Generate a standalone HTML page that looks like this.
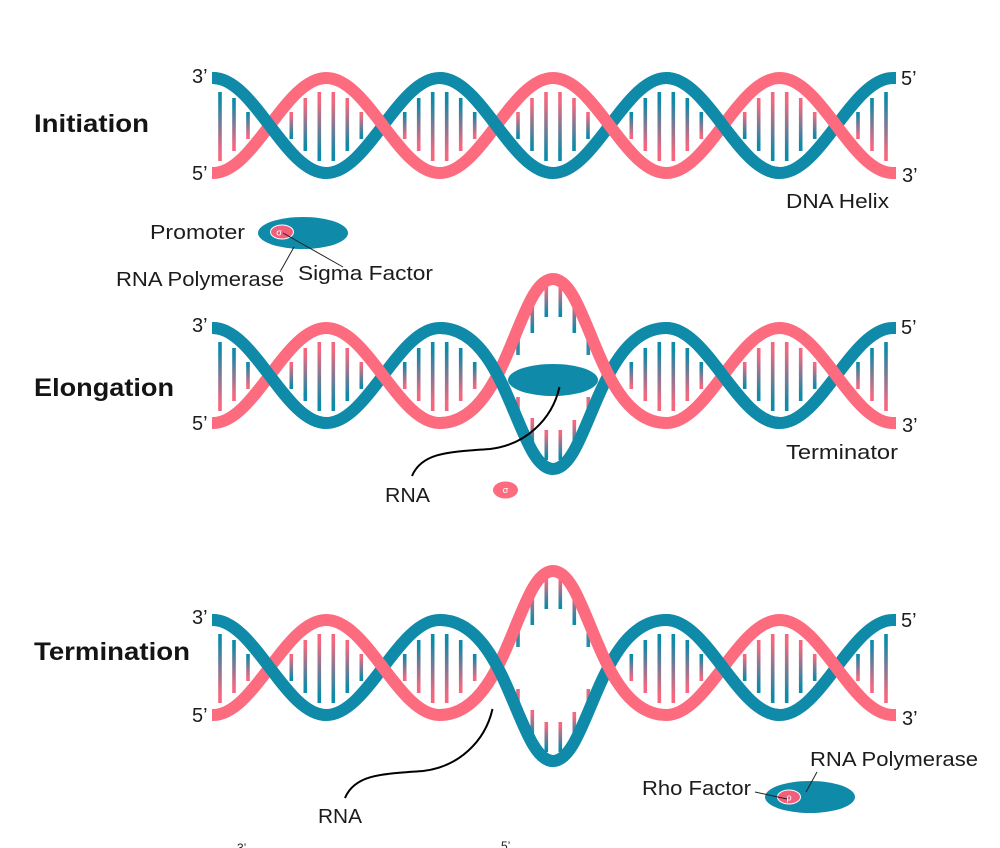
<!DOCTYPE html>
<html>
<head>
<meta charset="utf-8">
<style>
html,body{margin:0;padding:0;background:#fff;}
svg{display:block;}
text{font-family:"Liberation Sans",sans-serif;fill:#1c1c1c;font-size:20px;}
.t{font-size:25px;font-weight:bold;fill:#141414;}
</style>
</head>
<body>
<svg width="1000" height="848" viewBox="0 0 1000 848" xmlns="http://www.w3.org/2000/svg">
<defs>
<linearGradient id="tp" x1="0" y1="0" x2="0" y2="1"><stop offset="0.12" stop-color="#0f8aa8"/><stop offset="0.88" stop-color="#f4687f"/></linearGradient>
<linearGradient id="pt" x1="0" y1="0" x2="0" y2="1"><stop offset="0.12" stop-color="#f4687f"/><stop offset="0.88" stop-color="#0f8aa8"/></linearGradient>
<g id="tr">
<rect x="5.2" y="92" width="3.6" height="69" fill="url(#tp)"/>
<rect x="19.2" y="98" width="3.6" height="53" fill="url(#tp)"/>
<rect x="33.2" y="112" width="3.6" height="27" fill="url(#tp)"/>
</g>
<g id="pr">
<rect x="5.2" y="92" width="3.6" height="69" fill="url(#pt)"/>
<rect x="19.2" y="98" width="3.6" height="53" fill="url(#pt)"/>
<rect x="33.2" y="112" width="3.6" height="27" fill="url(#pt)"/>
</g>
<g id="side">
<use href="#tr" transform="translate(213,0)"/>
<use href="#pr" transform="translate(326.3,0)"/>
<use href="#pr" transform="translate(326.3,0) scale(-1,1)"/>
<use href="#tr" transform="translate(439.7,0) scale(-1,1)"/>
<use href="#tr" transform="translate(666.3,0)"/>
<use href="#pr" transform="translate(779.7,0) scale(-1,1)"/>
<use href="#pr" transform="translate(779.7,0)"/>
<use href="#tr" transform="translate(893,0) scale(-1,1)"/>
</g>
<g id="bubble">
<use href="#side" transform="translate(0,250)"/>
<rect x="544.5" y="285" width="3.6" height="32" fill="url(#pt)"/>
<rect x="558.5" y="285" width="3.6" height="32" fill="url(#pt)"/>
<rect x="530.5" y="298" width="3.6" height="35" fill="url(#pt)"/>
<rect x="572.5" y="298" width="3.6" height="35" fill="url(#pt)"/>
<rect x="516.2" y="330" width="3.6" height="25" fill="#2f8aa8"/>
<rect x="586.5" y="330" width="3.6" height="25" fill="#2f8aa8"/>
<rect x="544.5" y="430" width="3.6" height="30" fill="url(#pt)"/>
<rect x="558.5" y="430" width="3.6" height="30" fill="url(#pt)"/>
<rect x="530.5" y="418" width="3.6" height="30" fill="url(#pt)"/>
<rect x="572.5" y="420" width="3.6" height="30" fill="url(#pt)"/>
<rect x="516.2" y="397" width="3.6" height="16" fill="#e36a83"/>
<rect x="586.5" y="397" width="3.6" height="16" fill="#e36a83"/>
<path d="M212,328 L213,328 C254.3,328 285,423 326.3,423 C367.6,423 398.4,328 439.7,328 C508,328 517.5,469 553,469 C588.5,469 598,328 666.3,328 C707.6,328 738.4,423 779.7,423 C821,423 851.7,328 893,328 L896,328" fill="none" stroke="#0f8aa8" stroke-width="12"/>
<path d="M212,423 L213,423 C254.3,423 285,328 326.3,328 C367.6,328 398.4,423 439.7,423 C508,423 517.5,279 553,279 C588.5,279 598,423 666.3,423 C707.6,423 738.4,328 779.7,328 C821,328 851.7,423 893,423 L896,423" fill="none" stroke="#fd6b7f" stroke-width="12"/>
<path d="M213,328 C254.3,328 285,423 326.3,423 M439.7,328 C508,328 517.5,469 553,469 M666.3,328 C707.6,328 738.4,423 779.7,423" fill="none" stroke="#0f8aa8" stroke-width="12"/>
</g>
</defs>

<!-- Initiation -->
<use href="#side"/>
<use href="#tr" transform="translate(439.7,0)"/>
<use href="#pr" transform="translate(553,0) scale(-1,1)"/>
<use href="#pr" transform="translate(553,0)"/>
<use href="#tr" transform="translate(666.3,0) scale(-1,1)"/>
<path d="M212,78 L213,78 C254.3,78 285,173 326.3,173 C367.6,173 398.4,78 439.7,78 C481,78 511.7,173 553,173 C594.3,173 625,78 666.3,78 C707.6,78 738.4,173 779.7,173 C821,173 851.7,78 893,78 L896,78" fill="none" stroke="#0f8aa8" stroke-width="12"/>
<path d="M212,173 L213,173 C254.3,173 285,78 326.3,78 C367.6,78 398.4,173 439.7,173 C481,173 511.7,78 553,78 C594.3,78 625,173 666.3,173 C707.6,173 738.4,78 779.7,78 C821,78 851.7,173 893,173 L896,173" fill="none" stroke="#fd6b7f" stroke-width="12"/>
<path d="M213,78 C254.3,78 285,173 326.3,173 M439.7,78 C481,78 511.7,173 553,173 M666.3,78 C707.6,78 738.4,173 779.7,173" fill="none" stroke="#0f8aa8" stroke-width="12"/>

<!-- Elongation -->
<use href="#tr" transform="translate(439.7,250)"/>
<use href="#tr" transform="translate(666.3,250) scale(-1,1)"/>
<use href="#bubble"/>
<ellipse cx="553" cy="380" rx="45" ry="16" fill="#0f8aa8"/>
<path d="M559.5,387 C552,420 525,445 490,449 C450,452 422,452 412,476" fill="none" stroke="#000" stroke-width="2"/>
<ellipse cx="505.5" cy="490" rx="12.5" ry="8.5" fill="#fd6b7f"/>
<text x="505.5" y="493" text-anchor="middle" style="font-size:9px;fill:#fff">σ</text>

<!-- Termination -->
<g transform="translate(0,292)">
<use href="#tr" transform="translate(439.7,250)"/>
<use href="#tr" transform="translate(666.3,250) scale(-1,1)"/>
<use href="#bubble"/>
</g>
<path d="M492.5,709 C485,742 458,767 423,771 C383,774 355,774 345,798" fill="none" stroke="#000" stroke-width="2"/>

<!-- Promoter complex -->
<ellipse cx="303" cy="233" rx="45" ry="16" fill="#0f8aa8"/>
<ellipse cx="282" cy="232" rx="11.5" ry="7" fill="#f0607a" stroke="#fff" stroke-width="1"/>
<text x="279" y="235.500" text-anchor="middle" style="font-size:9px;fill:#fff">σ</text>
<line x1="283" y1="233" x2="343" y2="267" stroke="#222" stroke-width="1"/>
<line x1="294" y1="247" x2="280" y2="272" stroke="#222" stroke-width="1"/>

<!-- Rho complex -->
<ellipse cx="810" cy="797" rx="45" ry="16" fill="#0f8aa8"/>
<ellipse cx="789" cy="797" rx="11.500" ry="7" fill="#f0607a" stroke="#fff" stroke-width="1"/>
<text x="789" y="800.500" text-anchor="middle" style="font-size:9px;fill:#fff">ρ</text>
<line x1="755" y1="792" x2="787" y2="799" stroke="#222" stroke-width="1"/>
<line x1="817" y1="772" x2="806" y2="792" stroke="#222" stroke-width="1"/>

<!-- Titles -->
<text class="t" x="34" y="132" textLength="115" lengthAdjust="spacingAndGlyphs">Initiation</text>
<text class="t" x="34" y="396" textLength="140" lengthAdjust="spacingAndGlyphs">Elongation</text>
<text class="t" x="34" y="660" textLength="156" lengthAdjust="spacingAndGlyphs">Termination</text>

<!-- End labels -->
<text x="192" y="83">3’</text><text x="192" y="180">5’</text>
<text x="901" y="85">5’</text><text x="902" y="182">3’</text>
<text x="192" y="332">3’</text><text x="192" y="430">5’</text>
<text x="901" y="334">5’</text><text x="902" y="432">3’</text>
<text x="192" y="624">3’</text><text x="192" y="722">5’</text>
<text x="901" y="627">5’</text><text x="902" y="725">3’</text>

<!-- Labels -->
<text x="786" y="208" textLength="103" lengthAdjust="spacingAndGlyphs">DNA Helix</text>
<text x="150" y="239" textLength="95" lengthAdjust="spacingAndGlyphs">Promoter</text>
<text x="298" y="280" textLength="135" lengthAdjust="spacingAndGlyphs">Sigma Factor</text>
<text x="116" y="286" textLength="168" lengthAdjust="spacingAndGlyphs">RNA Polymerase</text>
<text x="786" y="459" textLength="112" lengthAdjust="spacingAndGlyphs">Terminator</text>
<text x="385" y="502" textLength="45" lengthAdjust="spacingAndGlyphs">RNA</text>
<text x="318" y="823" textLength="44" lengthAdjust="spacingAndGlyphs">RNA</text>
<text x="642" y="795" textLength="109" lengthAdjust="spacingAndGlyphs">Rho Factor</text>
<text x="810" y="766" textLength="168" lengthAdjust="spacingAndGlyphs">RNA Polymerase</text>

<!-- Clipped labels at bottom edge -->
<text x="237" y="852" style="font-size:12px">3’</text>
<text x="501" y="850" style="font-size:12px">5’</text>
</svg>
</body>
</html>
